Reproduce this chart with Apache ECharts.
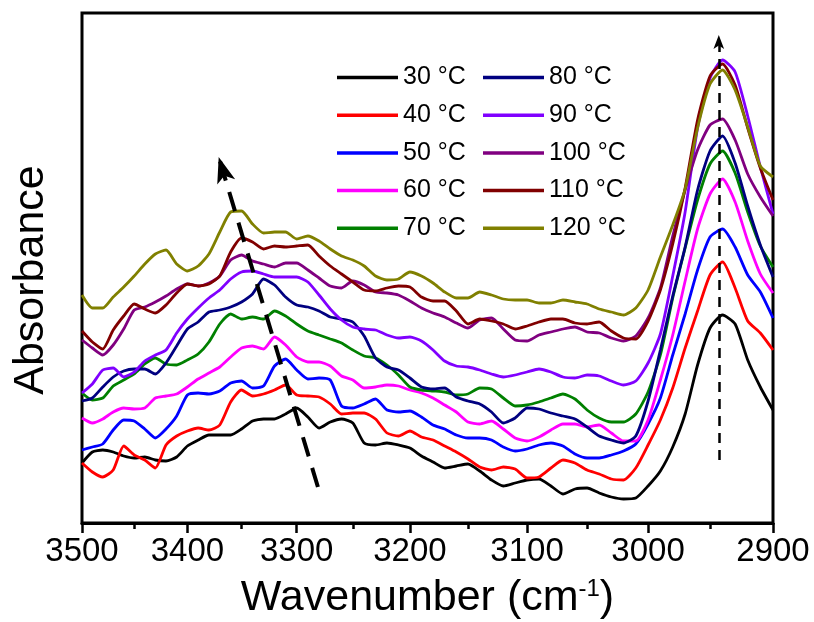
<!DOCTYPE html>
<html>
<head>
<meta charset="utf-8">
<title>FTIR absorbance vs temperature</title>
<script src="https://cdn.jsdelivr.net/npm/echarts@6/dist/echarts.min.js"></script>
<style>
    html, body { margin: 0; padding: 0; background: #fff; }
    #main { width: 814px; height: 622px; }
</style>
</head>
<body>
<div id="main"></div>
<script>
// 波数 (cm-1), 每 10 一个点
var wavenumbers = [3500, 3490, 3480, 3470, 3460, 3450, 3440, 3430, 3420, 3410,
    3400, 3390, 3380, 3370, 3360, 3350, 3340, 3330, 3320, 3310,
    3300, 3290, 3280, 3270, 3260, 3250, 3240, 3230, 3220, 3210,
    3200, 3190, 3180, 3170, 3160, 3150, 3140, 3130, 3120, 3110,
    3100, 3090, 3080, 3070, 3060, 3050, 3040, 3030, 3020, 3010,
    3000, 2990, 2980, 2970, 2960, 2950, 2940, 2930, 2920, 2910, 2900];

var temps = ['30 °C', '40 °C', '50 °C', '60 °C', '70 °C', '80 °C', '90 °C', '100 °C', '110 °C', '120 °C'];
var colors = ['#000000', '#ff0000', '#0000ff', '#ff00ff', '#008000', '#000080', '#8000ff', '#800080', '#800000', '#808000'];

// 吸光度 (任意单位, 各曲线已带偏移)
var a30 = [60, 71, 73, 71, 67, 65, 66, 63, 62, 66, 77, 83, 88, 88, 88, 94, 102, 104, 104, 109,
    115, 106, 95, 101, 104, 100, 80, 78, 80, 78, 75, 67, 61, 55, 57, 59, 52, 43, 37, 40,
    43, 44, 37, 29, 34, 35, 30, 26, 24, 25, 37, 52, 76, 109, 158, 195, 208, 199, 163, 136, 113];
var a40 = [60, 51, 46, 53, 77, 68, 63, 55, 78, 87, 92, 95, 93, 98, 121, 133, 127, 129, 133, 138,
    128, 127, 126, 119, 109, 110, 110, 104, 90, 87, 92, 86, 83, 77, 71, 64, 56, 53, 56, 54,
    45, 46, 55, 63, 60, 53, 49, 44, 43, 55, 78, 103, 135, 175, 212, 248, 261, 235, 202, 190, 173];
var a50 = [73, 76, 79, 93, 103, 102, 94, 85, 94, 107, 128, 130, 129, 132, 140, 142, 135, 137, 157, 164,
    153, 144, 145, 143, 117, 115, 119, 124, 113, 111, 112, 106, 98, 94, 88, 85, 85, 83, 76, 72,
    74, 78, 80, 77, 69, 65, 65, 68, 72, 79, 99, 125, 168, 209, 253, 286, 294, 276, 248, 231, 205];
var a60 = [105, 100, 104, 111, 115, 114, 115, 125, 127, 129, 136, 144, 150, 156, 166, 175, 177, 174, 186, 178,
    166, 161, 161, 157, 147, 143, 135, 136, 138, 137, 133, 130, 125, 118, 111, 101, 99, 102, 94, 85,
    82, 86, 93, 99, 99, 96, 98, 90, 82, 82, 103, 143, 188, 242, 294, 329, 344, 321, 282, 249, 230];
var a70 = [130, 123, 125, 137, 143, 149, 159, 165, 159, 158, 163, 169, 181, 199, 209, 204, 206, 204, 212, 207,
    199, 192, 188, 184, 180, 173, 167, 165, 158, 148, 136, 133, 132, 131, 128, 129, 135, 134, 125, 117,
    118, 121, 125, 129, 124, 113, 105, 101, 101, 109, 131, 168, 225, 275, 323, 359, 372, 350, 311, 277, 256];
var a80 = [122, 125, 136, 146, 152, 154, 154, 149, 160, 177, 194, 201, 211, 213, 216, 221, 229, 244, 238, 226,
    218, 216, 212, 206, 204, 201, 187, 165, 156, 153, 145, 136, 134, 135, 126, 122, 119, 111, 100, 105,
    115, 114, 110, 107, 104, 96, 87, 83, 80, 87, 122, 173, 227, 276, 333, 372, 387, 360, 317, 278, 246];
var a90 = [130, 139, 153, 155, 146, 151, 162, 168, 173, 190, 204, 215, 225, 233, 244, 251, 252, 249, 246, 246,
    246, 241, 228, 214, 203, 196, 194, 193, 188, 185, 186, 182, 173, 162, 157, 156, 153, 149, 146, 148,
    151, 154, 151, 146, 145, 148, 147, 142, 138, 142, 160, 189, 247, 311, 395, 445, 463, 451, 407, 356, 309];
var a100 = [183, 175, 168, 178, 194, 213, 216, 221, 227, 234, 239, 237, 240, 247, 263, 268, 262, 259, 256, 260,
    260, 253, 245, 237, 235, 242, 238, 231, 230, 228, 222, 215, 210, 206, 200, 195, 203, 205, 194, 183,
    182, 188, 191, 194, 196, 191, 190, 185, 182, 187, 205, 235, 287, 333, 373, 398, 404, 383, 349, 326, 307];
var a110 = [192, 181, 174, 193, 207, 219, 214, 210, 218, 230, 239, 237, 239, 247, 271, 285, 281, 274, 277, 276,
    277, 278, 267, 257, 249, 241, 233, 232, 235, 237, 236, 226, 222, 222, 212, 199, 204, 202, 199, 194,
    197, 201, 204, 204, 200, 199, 201, 192, 185, 184, 202, 233, 279, 335, 403, 447, 459, 438, 395, 355, 323];
var a120 = [228, 215, 215, 226, 236, 247, 259, 269, 273, 259, 252, 257, 269, 291, 311, 312, 299, 290, 291, 291,
    284, 287, 282, 274, 267, 263, 257, 247, 243, 244, 251, 247, 240, 231, 225, 225, 231, 228, 224, 223,
    223, 220, 220, 223, 221, 219, 214, 211, 208, 215, 233, 266, 298, 334, 395, 439, 453, 433, 396, 357, 346];
var absorb = [a30, a40, a50, a60, a70, a80, a90, a100, a110, a120];

// 坐标轴刻度
var majorTicks = [3500, 3400, 3300, 3200, 3100, 3000, 2900];
var minorTicks = [3450, 3350, 3250, 3150, 3050, 2950];

// 虚线箭头: [波数, 吸光度] 起点 -> 终点
var arrowShift = [[3281, 36], [3371, 366]];
var arrowPeak = [[2943, 63], [2943, 488]];

// 原图的横轴在低波数一侧略有拉伸, 这里做同样的映射
function warp(wn) {
    var k = (3500 - wn) / 100;
    return 103.3 * k + 1.95 * k * k;
}
function unwarp(u) {
    var k = (-103.3 + Math.sqrt(103.3 * 103.3 + 4 * 1.95 * u)) / (2 * 1.95);
    return Math.round(3500 - 100 * k);
}

var font = 'Liberation Sans, Arial, sans-serif';

var series = temps.map(function (name, i) {
    return {
        name: name,
        type: 'line',
        xAxisIndex: 0,
        data: wavenumbers.map(function (wn, j) { return [warp(wn), absorb[i][j]]; }),
        symbol: 'none',
        showSymbol: false,
        smooth: 0.2,
        lineStyle: { color: colors[i], width: 2.8 },
        itemStyle: { color: colors[i] },
        emphasis: { disabled: true }
    };
});

function arrowLine(pts, width, dash, size) {
    return {
        silent: true,
        animation: false,
        symbol: ['none', 'arrow'],
        symbolSize: size,
        label: { show: false },
        emphasis: { disabled: true },
        lineStyle: { color: '#000', width: width, type: dash },
        data: [[
            { coord: [warp(pts[0][0]), pts[0][1]] },
            { coord: [warp(pts[1][0]), pts[1][1]] }
        ]]
    };
}
series[0].markLine = arrowLine(arrowShift, 4, [20, 12], [14, 26]);
series[1].markLine = arrowLine(arrowPeak, 2.5, [10, 7], [8, 14]);

var legendBase = {
    orient: 'vertical',
    top: 65,
    padding: 0,
    icon: 'rect',
    itemWidth: 61,
    itemHeight: 3.5,
    itemGap: 12.7,
    selectedMode: false,
    itemStyle: { borderWidth: 0 },
    textStyle: { fontSize: 25, lineHeight: 24, color: '#000', fontFamily: font }
};

var chart = echarts.init(document.getElementById('main'));
chart.setOption({
    animation: false,
    backgroundColor: '#fff',
    textStyle: { fontFamily: font },
    grid: {
        left: 82, right: 41, top: 13, bottom: 99,
        show: true, borderColor: '#000', borderWidth: 3,
        containLabel: false, outerBoundsMode: 'none'
    },
    legend: [
        echarts.util.merge({ left: 337, data: temps.slice(0, 5) }, legendBase),
        echarts.util.merge({ left: 483, data: temps.slice(5) }, legendBase)
    ],
    xAxis: [{
        type: 'value',
        min: 0,
        max: warp(2900),
        position: 'bottom',
        axisLine: { show: true, onZero: false, lineStyle: { color: '#000', width: 3 } },
        axisTick: {
            show: true, inside: false, length: 10,
            lineStyle: { color: '#000', width: 2.5 },
            customValues: majorTicks.map(warp)
        },
        axisLabel: {
            show: true, fontSize: 33, color: '#000', margin: 12, fontFamily: font,
            customValues: majorTicks.map(warp),
            formatter: function (v) { return String(unwarp(v)); }
        },
        splitLine: { show: false },
        name: '{a|Wavenumber (cm}{s|-1}{a|)}',
        nameLocation: 'middle',
        nameGap: 43,
        nameTextStyle: {
            color: '#000',
            rich: {
                a: { fontSize: 43, lineHeight: 50, color: '#000', fontFamily: font },
                s: { fontSize: 24, lineHeight: 26, color: '#000', fontFamily: font, verticalAlign: 'top', padding: [4, 0, 0, 0] }
            }
        }
    }, {
        type: 'value',
        min: 0,
        max: warp(2900),
        position: 'bottom',
        axisLine: { show: false },
        axisTick: {
            show: true, inside: false, length: 6,
            lineStyle: { color: '#000', width: 2.5 },
            customValues: minorTicks.map(warp)
        },
        axisLabel: { show: false },
        splitLine: { show: false }
    }],
    yAxis: {
        type: 'value',
        min: 0,
        max: 510,
        axisLine: { show: false },
        axisTick: { show: false },
        axisLabel: { show: false },
        splitLine: { show: false },
        name: 'Absorbance',
        nameLocation: 'middle',
        nameGap: 29,
        nameTextStyle: { fontSize: 43, color: '#000', fontFamily: font, padding: [0, 24, 0, 0] }
    },
    series: series
});
</script>
</body>
</html>
